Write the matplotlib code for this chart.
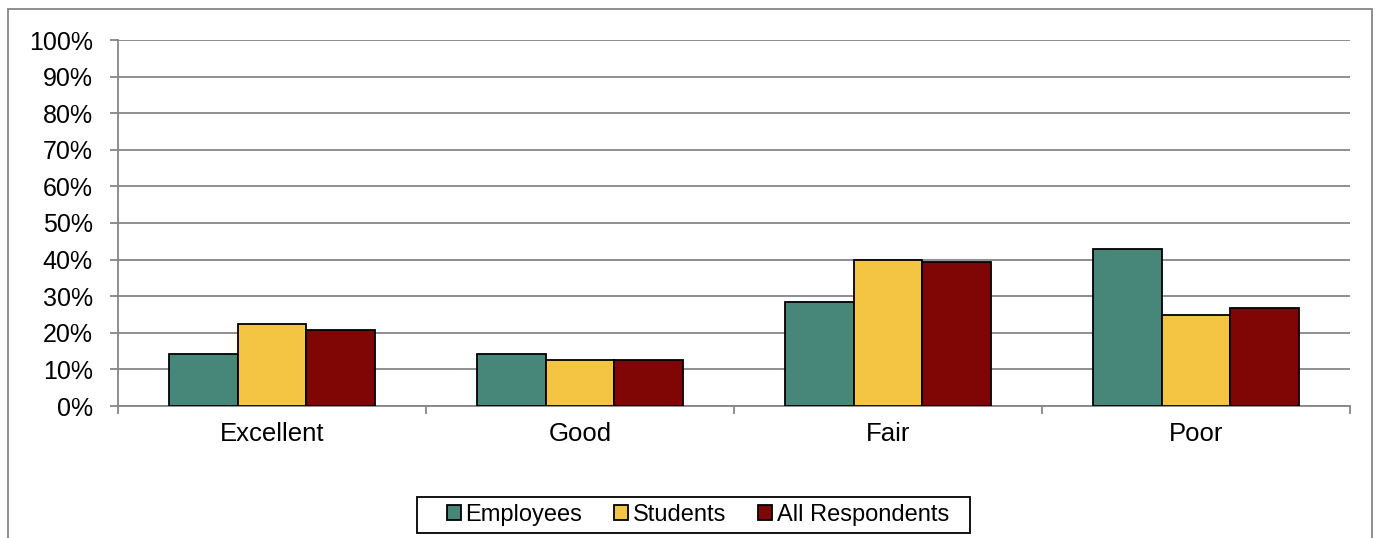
import numpy as np
import matplotlib.pyplot as plt
from matplotlib.patches import Rectangle
from matplotlib.ticker import FixedLocator, PercentFormatter

plt.rcParams['font.family'] = ['Liberation Sans', 'DejaVu Sans']

# data
categories = ["Excellent", "Good", "Fair", "Poor"]
employees = [14.3, 14.3, 28.4, 42.8]
students = [22.4, 12.5, 39.8, 24.9]
all_resp = [20.7, 12.6, 39.3, 26.9]

series_names = ["Employees", "Students", "All Respondents"]
colors = ["#46877a", "#f4c542", "#800505"]

fig = plt.figure(figsize=(13.81, 5.38), dpi=100)
ax = fig.add_axes([118/1381, 1 - 406/538, (1350 - 118)/1381, (406 - 40)/538])

x = np.arange(len(categories))
w = 0.223
for i, (vals, name, c) in enumerate(zip([employees, students, all_resp], series_names, colors)):
    ax.bar(x + (i - 1)*w, vals, width=w, color=c, edgecolor="black", linewidth=1.3,
           label=name, zorder=3)

ax.set_xlim(-0.5, len(categories) - 0.5)
ax.set_ylim(0, 100)
ax.set_yticks(np.arange(0, 101, 10))
ax.yaxis.set_major_formatter(PercentFormatter(decimals=0))
ax.grid(axis="y", color="#868686", linewidth=1.3, zorder=0)

ax.set_xticks(x)
ax.set_xticklabels(categories)
ax.xaxis.set_minor_locator(FixedLocator(np.arange(-0.5, len(categories), 1)))
ax.tick_params(axis="x", which="major", length=0, pad=11.5, labelsize=18.5)
ax.tick_params(axis="x", which="minor", length=6, width=1.3, color="#868686", direction="out")
ax.tick_params(axis="y", length=6, width=1.3, color="#868686", labelsize=18, pad=12)

for s in ["top", "right"]:
    ax.spines[s].set_visible(False)
for s in ["left", "bottom"]:
    ax.spines[s].set_color("#868686")
    ax.spines[s].set_linewidth(1.3)

leg = fig.legend(loc="center", bbox_to_anchor=(698/1381, 1 - 515/538), ncol=3,
                 fontsize=17, frameon=False,
                 handlelength=0.6, handleheight=0.6, handletextpad=0.2,
                 columnspacing=1.35, borderpad=0, borderaxespad=0)
for h in leg.legend_handles:
    h.set_linewidth(1.3)

# legend frame
fig.patches.append(Rectangle((417/1381, 1 - 533/538), (970 - 417)/1381, 36/538,
                             transform=fig.transFigure, fill=False,
                             edgecolor="black", linewidth=1.3))

# outer chart border
fig.patches.append(Rectangle((8/1381, -0.05), (1372 - 8)/1381, 1.05 - 9/538,
                             transform=fig.transFigure, fill=False,
                             edgecolor="#868686", linewidth=1.3))

fig.savefig("out.png", dpi=100)
